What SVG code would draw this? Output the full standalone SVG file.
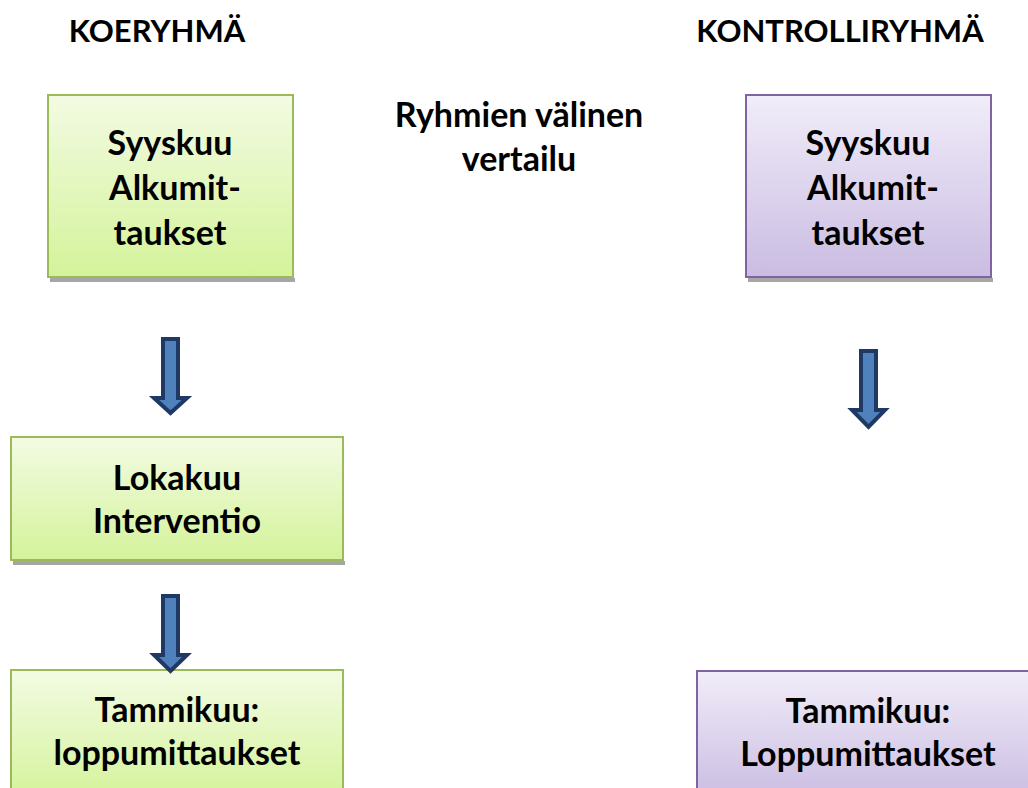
<svg xmlns="http://www.w3.org/2000/svg" width="1028" height="788" viewBox="0 0 1028 788">
<defs>
<linearGradient id="gG" x1="0" y1="0" x2="0" y2="1"><stop offset="0" stop-color="#f3fbe3"/><stop offset="1" stop-color="#d4f39a"/></linearGradient>
<linearGradient id="gP" x1="0" y1="0" x2="0" y2="1"><stop offset="0" stop-color="#f1edf9"/><stop offset="1" stop-color="#cabce2"/></linearGradient>
</defs>
<style>
.t{font-family:Lato,"Open Sans","Liberation Sans",sans-serif;font-weight:bold;fill:#000;text-anchor:middle}
.h{font-size:31px}
.b{font-size:34px}
.g{fill:url(#gG);stroke:#9bbb59;stroke-width:2}
.p{fill:url(#gP);stroke:#8064a2;stroke-width:2}
.sh{fill:#a6a6a6}
.ar{fill:#4f81bd;stroke:#1f3864;stroke-width:4;stroke-linejoin:miter}
</style>
<rect width="1028" height="788" fill="#fff"/>
<text class="t h" x="157" y="42">KOERYHMÄ</text>
<text class="t h" x="840" y="42">KONTROLLIRYHMÄ</text>
<text class="t b" x="519" y="127">Ryhmien välinen</text>
<text class="t b" x="519" y="171">vertailu</text>

<g id="koe1">
<rect class="sh" x="50" y="278" width="245" height="4"/>
<rect class="g" x="48" y="95" width="245" height="182"/>
<text class="t b" x="170" y="155">Syyskuu</text>
<text class="t b" x="175" y="200">Alkumit-</text>
<text class="t b" x="170" y="245">taukset</text>
</g>
<g id="koe2">
<rect class="sh" x="13" y="561" width="332" height="4"/>
<rect class="g" x="11" y="437" width="332" height="123"/>
<text class="t b" x="177" y="490">Lokakuu</text>
<text class="t b" x="177" y="533">Interventio</text>
</g>
<g id="koe3">
<rect class="g" x="11" y="670" width="332" height="130"/>
<text class="t b" x="177" y="722">Tammikuu:</text>
<text class="t b" x="177" y="765">loppumittaukset</text>
</g>
<g id="kontrolli1">
<rect class="sh" x="748" y="278" width="245" height="4"/>
<rect class="p" x="746" y="95" width="245" height="182"/>
<text class="t b" x="868" y="155">Syyskuu</text>
<text class="t b" x="873" y="200">Alkumit-</text>
<text class="t b" x="868" y="245">taukset</text>
</g>
<g id="kontrolli2">
<rect class="p" x="697" y="671" width="340" height="130"/>
<text class="t b" x="868" y="723">Tammikuu:</text>
<text class="t b" x="868" y="766">Loppumittaukset</text>
</g>
<g id="connectors">
<path class="ar" d="M163,339 H178 V398 H187 L170.5,413 L154,398 H163 Z"/>
<path class="ar" d="M163,596 H178 V655 H187 L170.5,671 L154,655 H163 Z"/>
<path class="ar" d="M861,351 H876 V410 H885 L868.5,427 L852,410 H861 Z"/>
</g>
</svg>
